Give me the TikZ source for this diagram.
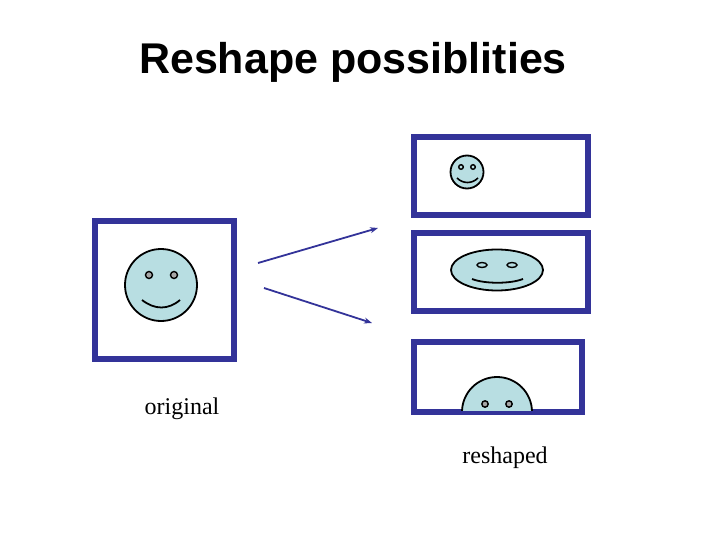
\documentclass[tikz,border=0pt]{standalone}
\usetikzlibrary{arrows.meta}
\usepackage{fontspec}
\setmainfont{Liberation Serif}
\newfontfamily\hv{Liberation Sans}
\definecolor{bx}{HTML}{333399}
\definecolor{fc}{HTML}{B8DEE2}
\begin{document}
\begin{tikzpicture}[x=1pt,y=-1pt,
  frame/.style={draw=bx,line width=5.5pt},
  face/.style={draw=black,line width=1.8pt,fill=fc},
  eye/.style={draw=black,line width=1.4pt,fill=gray!70},
  arr/.style={draw=bx,line width=1.8pt,-{Stealth[length=8pt]}}]
\useasboundingbox (0,0) rectangle (720,540);
\node[font=\hv\bfseries\fontsize{43}{50}\selectfont] (title) at (353,62) {Reshape possiblities};
% original
\draw[frame] (95,221) rectangle (234,359);
\draw[face] (161,285) circle (36);
\draw[eye] (149,275) circle (3.5); \draw[eye] (174,275) circle (3.5);
\draw[line width=1.8pt] (142,300) .. controls (155,310) and (168,310) .. (180,300);
% arrows
\coordinate (a1) at (258,263); \coordinate (b1) at (378,228);
\coordinate (a2) at (264,288); \coordinate (b2) at (372,323);
\draw[arr] (a1) -- (b1); \draw[arr] (a2) -- (b2);
% box 2
\draw[frame] (414,137) rectangle (588,215);
\draw[face] (467,172) circle (16.5);
\draw[eye,fill=fc] (461,167) circle (2.3); \draw[eye,fill=fc] (473,167) circle (2.3);
\draw[line width=1.6pt] (457,178) .. controls (463,184) and (472,184) .. (478,178);
% box 3
\draw[frame] (414,233) rectangle (588,311);
\draw[face] (497,270) ellipse (46 and 20.5);
\draw[eye,fill=fc] (482,265) ellipse (5 and 2.5); \draw[eye,fill=fc] (512,265) ellipse (5 and 2.5);
\draw[line width=1.8pt] (472,279) .. controls (485,284) and (510,284) .. (523,279);
% box 4
\draw[frame] (414,342) rectangle (582,412);
\begin{scope}
\clip (380,330) rectangle (620,410);
\draw[face] (497,412) circle (35);
\end{scope}
\draw[eye] (485,404) circle (3.2); \draw[eye] (509,404) circle (3.2);
% labels
\node[font=\fontsize{24}{28}\selectfont] (orig) at (182,409) {original};
\node[font=\fontsize{24}{28}\selectfont] (resh) at (505,458) {reshaped};
\end{tikzpicture}
\end{document}
